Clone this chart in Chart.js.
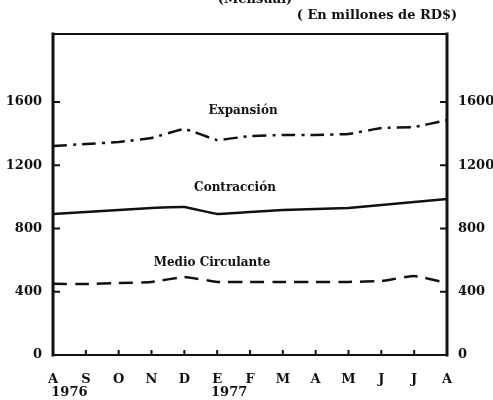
<!DOCTYPE html>
<html>
<head>
<meta charset="utf-8">
<script src="https://cdn.jsdelivr.net/npm/chart.js@4.4.0/dist/chart.umd.min.js"></script>
<style>
  body { margin: 0; background: #fff; }
</style>
</head>
<body>
<canvas id="chart" width="493" height="400"></canvas>
<script>
// months Aug 1976 - Aug 1977
const months = ['A', 'S', 'O', 'N', 'D', 'E', 'F', 'M', 'A', 'M', 'J', 'J', 'A'];
const yearLabels = ['1976', '1977'];
const yTicks = [0, 400, 800, 1200, 1600];

// millones de RD$
const expansion = [1322, 1334, 1347, 1372, 1429, 1360, 1385, 1391, 1391, 1398, 1435, 1442, 1486];
const contraccion = [892, 904, 917, 930, 936, 892, 904, 917, 923, 930, 949, 968, 987];
const medioCirculante = [450, 449, 455, 462, 493, 462, 462, 462, 462, 462, 468, 500, 455];

const ink = '#111';
const font = 'DejaVu Serif';

// frame, inward tick marks and the free text
const framePlugin = {
  id: 'frame',
  afterDraw(chart) {
    const { ctx, chartArea: { left, right, top, bottom }, scales: { x, y } } = chart;
    ctx.save();
    ctx.strokeStyle = ink;
    ctx.lineCap = 'square';

    // box
    ctx.lineWidth = 2;
    ctx.beginPath();
    ctx.moveTo(left, top); ctx.lineTo(right, top);
    ctx.moveTo(left, bottom); ctx.lineTo(right, bottom);
    ctx.stroke();
    ctx.lineWidth = 3;
    ctx.beginPath();
    ctx.moveTo(left, top); ctx.lineTo(left, bottom);
    ctx.moveTo(right, top); ctx.lineTo(right, bottom);
    ctx.stroke();

    // tick marks pointing inside
    ctx.lineWidth = 2;
    ctx.beginPath();
    yTicks.forEach(v => {
      if (v === 0) return;
      const py = y.getPixelForValue(v);
      ctx.moveTo(left, py); ctx.lineTo(left + 6, py);
      ctx.moveTo(right, py); ctx.lineTo(right - 6, py);
    });
    months.forEach((m, i) => {
      if (i === 0 || i === months.length - 1) return;
      const px = x.getPixelForValue(i);
      ctx.moveTo(px, bottom); ctx.lineTo(px, bottom - 4);
    });
    ctx.stroke();

    // texts
    ctx.fillStyle = ink;
    ctx.textAlign = 'center';
    ctx.textBaseline = 'middle';
    ctx.font = 'bold 13px "' + font + '"';
    ctx.fillText('(Mensual)', 255, 0);
    ctx.fillText('( En millones de RD$)', 377, 16);

    // year labels under the months
    ctx.fillText(yearLabels[0], (x.getPixelForValue(0) + x.getPixelForValue(1)) / 2, 393);
    ctx.fillText(yearLabels[1], x.getPixelForValue(5) + 12, 393);

    // series names
    ctx.font = 'bold 12px "' + font + '"';
    ctx.fillText('Expansión', 243, 111);
    ctx.fillText('Contracción', 235, 188);
    ctx.fillText('Medio Circulante', 212, 263);
    ctx.restore();
  }
};

const setTicks = scale => { scale.ticks = yTicks.map(v => ({ value: v })); };
const yTickOpts = {
  color: ink,
  font: { family: font, size: 13, weight: 'bold' },
  padding: 11,
  callback: v => String(v)
};

new Chart(document.getElementById('chart'), {
  type: 'line',
  data: {
    labels: months,
    datasets: [
      { label: 'Expansión', data: expansion, borderDash: [14, 6, 3, 6] },
      { label: 'Contracción', data: contraccion },
      { label: 'Medio Circulante', data: medioCirculante, borderDash: [14, 8] }
    ].map(d => Object.assign({
      borderColor: ink,
      borderWidth: 2.5,
      pointRadius: 0,
      tension: 0.1,
      fill: false
    }, d))
  },
  options: {
    responsive: false,
    animation: false,
    layout: { padding: { top: 34, right: 0, left: 0, bottom: 0 } },
    plugins: { legend: { display: false }, tooltip: { enabled: false } },
    scales: {
      x: {
        offset: false,
        grid: { display: false, drawTicks: false },
        border: { display: false },
        afterFit: s => { s.height = 45; },
        ticks: {
          color: ink,
          font: { family: font, size: 13, weight: 'bold' },
          padding: 17,
          autoSkip: false,
          maxRotation: 0
        }
      },
      y: {
        position: 'left',
        min: 0,
        max: 2030,
        afterBuildTicks: setTicks,
        afterFit: s => { s.width = 53; },
        grid: { display: false, drawTicks: false },
        border: { display: false },
        ticks: yTickOpts
      },
      y2: {
        position: 'right',
        min: 0,
        max: 2030,
        afterBuildTicks: setTicks,
        afterFit: s => { s.width = 46; },
        grid: { display: false, drawTicks: false },
        border: { display: false },
        ticks: yTickOpts
      }
    }
  },
  plugins: [framePlugin]
});
</script>
</body>
</html>
